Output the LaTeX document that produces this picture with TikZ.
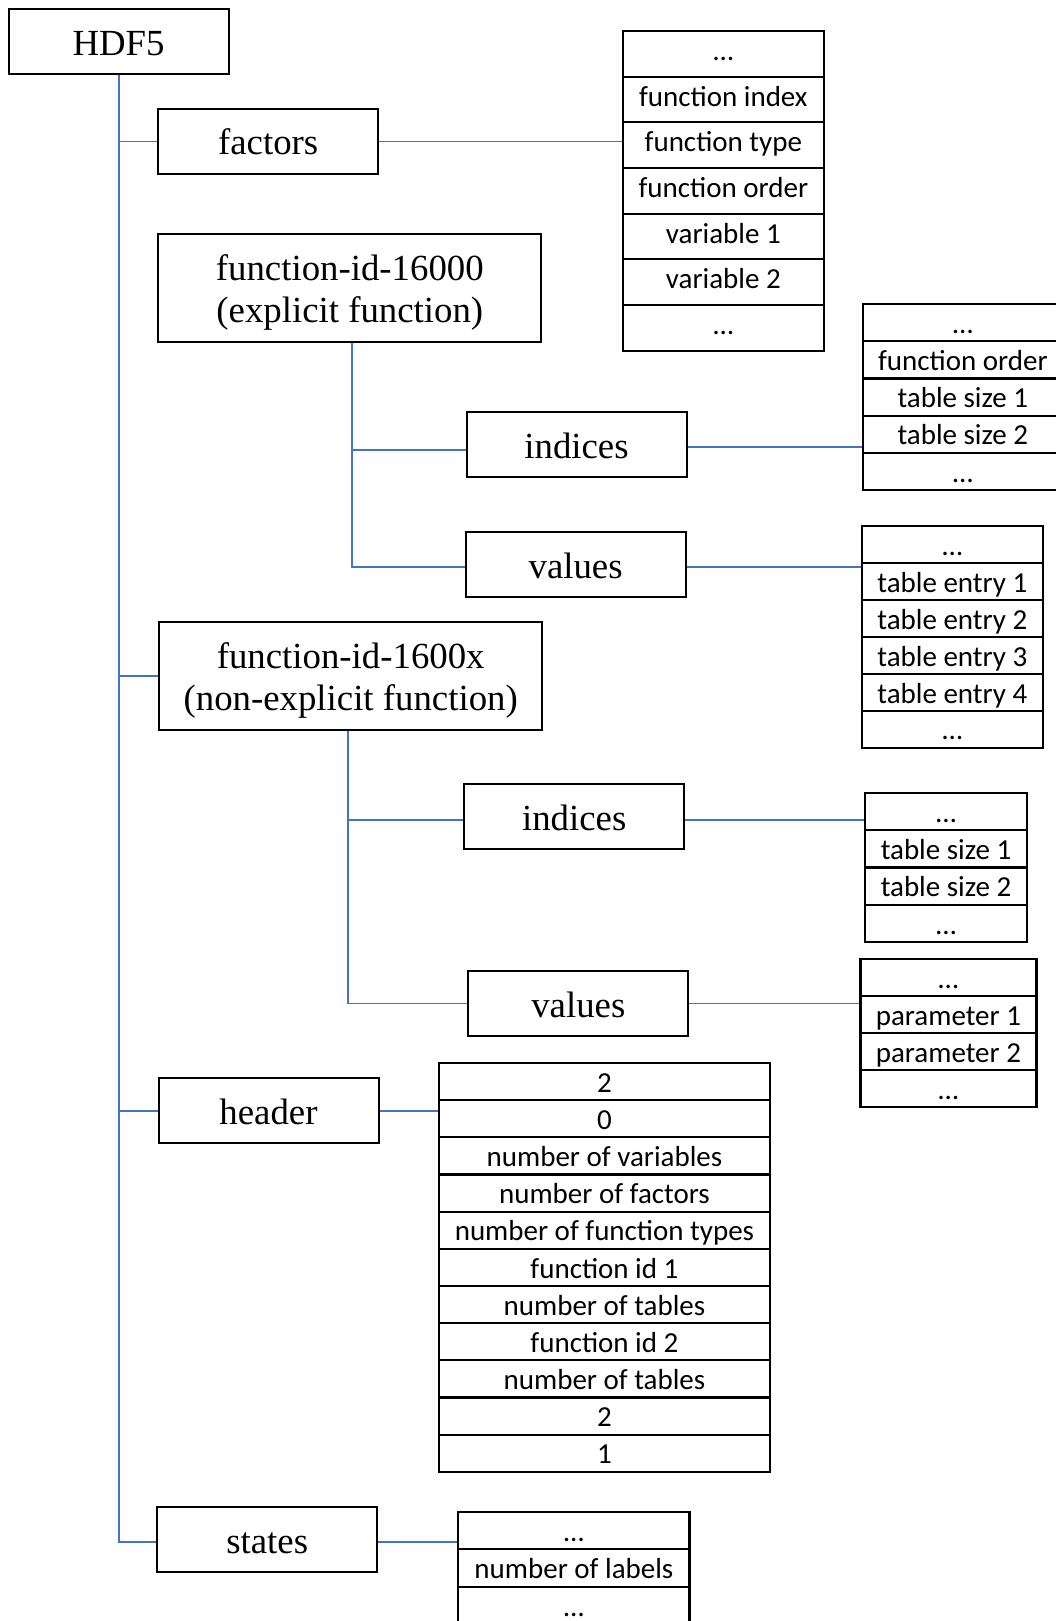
\documentclass[tikz,border=0pt]{standalone}
\usepackage{fontspec}
\setmainfont{Liberation Serif}
\newfontfamily\calfont{Carlito}
\definecolor{cblue}{HTML}{4472C4}
\tikzset{
  box/.style={draw=black, line width=2pt, minimum width=220pt, minimum height=65pt,
    inner sep=0pt, font=\fontsize{36.8}{42.4}\selectfont, text height=27pt, text depth=0pt},
  box2/.style={draw=black, line width=2pt, inner sep=0pt, align=center,
    font=\fontsize{36.8}{42.4}\selectfont, text height=68.5pt, text depth=0pt},
  cell/.style={draw=black, line width=2.2pt, inner sep=0pt,
    font=\calfont\fontsize{29}{35}\selectfont, text depth=0pt},
  conn/.style={draw=cblue, line width=1.8pt},
}
\begin{document}
\begin{tikzpicture}[x=1pt,y=-1pt]
\useasboundingbox (0,0) rectangle (1056,1621);
\clip (0,0) rectangle (1056,1621);
\fill[white] (0,0) rectangle (1056,1621);

% main boxes
\node[box] (hdf) at (118.6,41.65) {HDF5};
\node[box] (fac) at (268.2,141.5) {factors};
\node[box2, minimum width=383.2pt, minimum height=108.3pt] (fa) at (349.8,288.2) {function-id-16000\\(explicit function)};
\node[box] (ia) at (576.5,444.5) {indices};
\node[box] (va) at (575.6,564.8) {values};
\node[box2, minimum width=383.3pt, minimum height=107.7pt] (fb) at (350.7,676.2) {function-id-1600x\\(non-explicit function)};
\node[box] (ib) at (574.2,816.8) {indices};
\node[box] (vb) at (578.3,1003.5) {values};
\node[box] (hd) at (268.5,1110.8) {header};
\node[box] (st) at (267.2,1539.8) {states};

% tables
\foreach \t [count=\i] in {…, function index, function type, function order, variable 1, variable 2, …}
  \node[cell, minimum width=201.3pt, minimum height=45.67pt, text height=13pt] (ta-\i) at (723.35,31+45.67*\i-22.835) {\t};
\foreach \t [count=\i] in {…, function order, table size 1, table size 2, …}
  \node[cell, minimum width=200.3pt, minimum height=37.2pt, text height=21.5pt] (tb-\i) at (962.85,304+37.2*\i-18.6) {\t};
\foreach \t [count=\i] in {…, table entry 1, table entry 2, table entry 3, table entry 4, …}
  \node[cell, minimum width=180.7pt, minimum height=36.95pt, text height=21.5pt] (tc-\i) at (952.35,526+36.95*\i-18.475) {\t};
\foreach \t [count=\i] in {…, table size 1, table size 2, …}
  \node[cell, minimum width=161.9pt, minimum height=37.25pt, text height=21.5pt] (td-\i) at (946.05,793+37.25*\i-18.625) {\t};
\foreach \t [count=\i] in {…, parameter 1, parameter 2, …}
  \node[cell, minimum width=176pt, minimum height=36.85pt, text height=21.5pt] (te-\i) at (948.4,959.3+36.85*\i-18.425) {\t};
\foreach \t [count=\i] in {2, 0, number of variables, number of factors, number of function types, function id 1, number of tables, function id 2, number of tables, 2, 1}
  \node[cell, minimum width=331.7pt, minimum height=37.16pt, text height=21.5pt] (tf-\i) at (604.45,1063+37.16*\i-18.58) {\t};
\foreach \t [count=\i] in {…, number of labels, …}
  \node[cell, minimum width=231.2pt, minimum height=37.5pt, text height=21.5pt] (tg-\i) at (573.9,1511.7+37.5*\i-18.75) {\t};

% connector helper points
\coordinate (fa-b) at ([xshift=2.5pt]fa.south);
\coordinate (fb-b) at ([xshift=-2.4pt]fb.south);
\coordinate (ia-l) at ([yshift=-5.5pt]ia.west);
\coordinate (ia-r) at ([yshift=-2.8pt]ia.east);
\coordinate (va-l) at ([yshift=-1.9pt]va.west);
\coordinate (va-r) at ([yshift=-2.5pt]va.east);
\coordinate (ib-l) at ([yshift=-3.2pt]ib.west);
\coordinate (ib-r) at ([yshift=-2.9pt]ib.east);
\coordinate (st-l) at ([yshift=-2.5pt]st.west);
\coordinate (st-r) at ([yshift=-2.5pt]st.east);

% trunk
\draw[conn] (hdf.south) |- (st-l);
\draw[conn] (hdf.south |- fac.west) -- (fac.west);
\draw[conn] (hdf.south |- fb.west) -- (fb.west);
\draw[conn] (hdf.south |- hd.west) -- (hd.west);

% sub trees
\draw[conn] (fa-b) |- (va-l);
\draw[conn] (fa-b |- ia-l) -- (ia-l);
\draw[conn] (fb-b) |- (vb.west);
\draw[conn] (fb-b |- ib-l) -- (ib-l);

% to tables
\draw[conn] (fac.east) -- (fac.east -| ta-3.west);
\draw[conn] (ia-r) -- (ia-r -| tb-4.west);
\draw[conn] (va-r) -- (va-r -| tc-2.west);
\draw[conn] (ib-r) -- (ib-r -| td-1.west);
\draw[conn] (vb.east) -- (vb.east -| te-2.west);
\draw[conn] (hd.east) -- (hd.east -| tf-2.west);
\draw[conn] (st-r) -- (st-r -| tg-1.west);
\end{tikzpicture}
\end{document}
